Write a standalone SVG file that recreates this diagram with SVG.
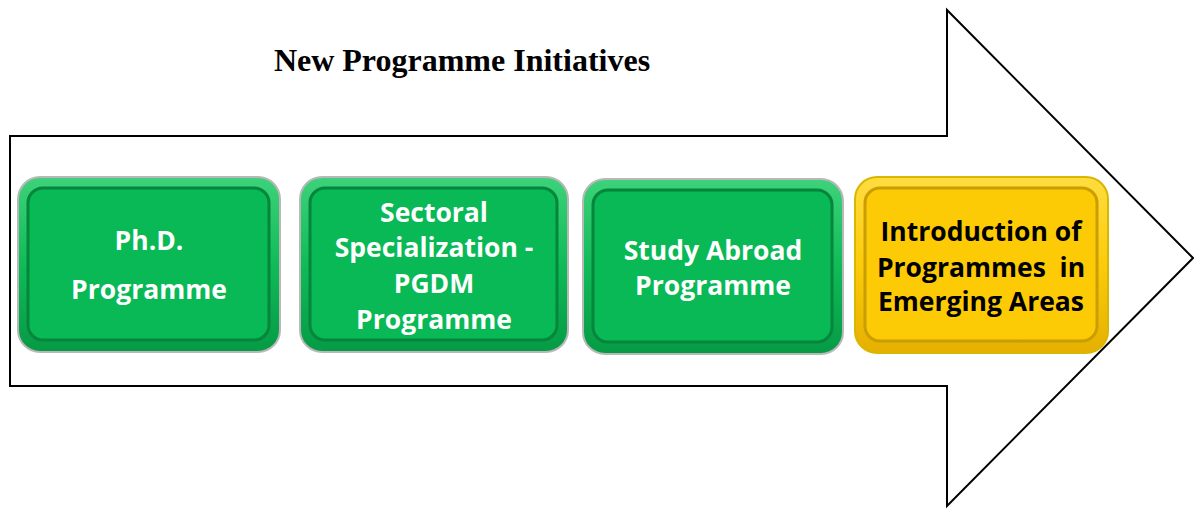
<svg xmlns="http://www.w3.org/2000/svg" width="1194" height="508" viewBox="0 0 1194 508">
<style>
.title{font-family:"Liberation Serif","Times New Roman",serif;font-weight:bold;font-size:32px;fill:#000}
.lbl{font-family:"Open Sans","Liberation Sans",sans-serif;font-weight:bold;font-size:26.5px;text-anchor:middle}
.w{fill:#fff}
.k{fill:#000}
.gOuter{fill:url(#gG);stroke:#b8b8b8;stroke-width:2}
.gInner{fill:#08b955;stroke:#05863c;stroke-width:3}
.yOuter{fill:url(#gY);stroke:#d9b600;stroke-width:2}
.yInner{fill:#fdcb06;stroke:#c99e00;stroke-width:3}
</style>
<defs>
<linearGradient id="gG" x1="0" y1="0" x2="0" y2="1">
<stop offset="0" stop-color="#3ed27a"/><stop offset="0.5" stop-color="#10bb58"/><stop offset="1" stop-color="#069a45"/>
</linearGradient>
<linearGradient id="gY" x1="0" y1="0" x2="0" y2="1">
<stop offset="0" stop-color="#ffdc40"/><stop offset="0.5" stop-color="#fccb0a"/><stop offset="1" stop-color="#e5b000"/>
</linearGradient>
</defs>
<rect width="1194" height="508" fill="#fff"/>
<g id="arrow">
<path d="M10,136 H947 V10 L1193,258 L947,506 V386 H10 Z" fill="#fff" stroke="#000" stroke-width="2"/>
</g>
<text class="title" x="462" y="71" text-anchor="middle">New Programme Initiatives</text>
<g id="node1">
<rect class="gOuter" x="18" y="177" width="262" height="175" rx="22"/>
<rect class="gInner" x="28" y="188" width="241" height="152" rx="15"/>
<text class="lbl w" x="149" y="250">Ph.D.</text>
<text class="lbl w" x="149" y="299">Programme</text>
</g>
<g id="node2">
<rect class="gOuter" x="300" y="177" width="268" height="175" rx="22"/>
<rect class="gInner" x="310" y="188" width="247" height="152" rx="15"/>
<text class="lbl w" x="434" y="222">Sectoral</text>
<text class="lbl w" x="434" y="257">Specialization -</text>
<text class="lbl w" x="434" y="293">PGDM</text>
<text class="lbl w" x="434" y="329">Programme</text>
</g>
<g id="node3">
<rect class="gOuter" x="583" y="179" width="260" height="175" rx="22"/>
<rect class="gInner" x="593" y="190" width="239" height="152" rx="15"/>
<text class="lbl w" x="713" y="260">Study Abroad</text>
<text class="lbl w" x="713" y="295">Programme</text>
</g>
<g id="node4">
<rect class="yOuter" x="855" y="177" width="253" height="176" rx="22"/>
<rect class="yInner" x="865" y="188" width="232" height="153" rx="15"/>
<text class="lbl k" x="981" y="241">Introduction of</text>
<text class="lbl k" x="981" y="277" xml:space="preserve">Programmes  in</text>
<text class="lbl k" x="981" y="311">Emerging Areas</text>
</g>
<g id="connectors"/>
</svg>
